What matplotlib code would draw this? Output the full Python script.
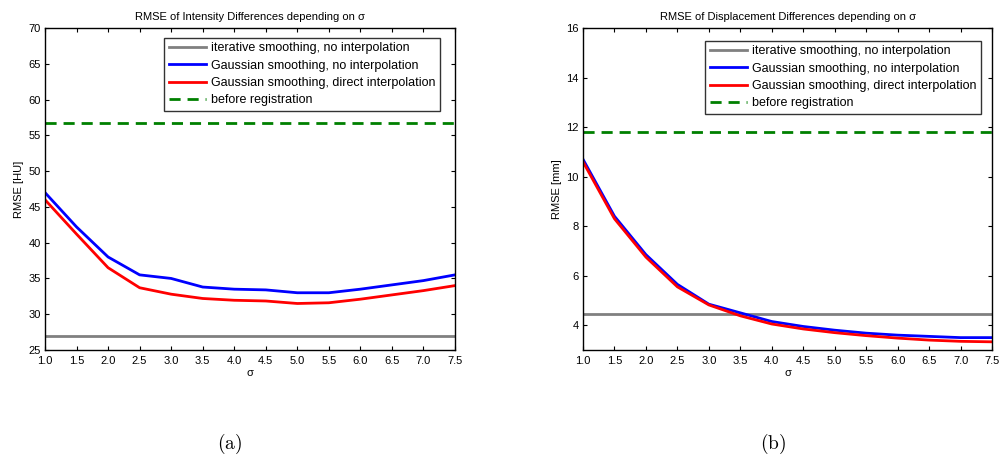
import numpy as np
import matplotlib.pyplot as plt

plt.rcParams['font.family'] = ['Liberation Sans', 'DejaVu Sans']
plt.rcParams['mathtext.fontset'] = 'cm'

# sigma values
sigma = [1.0, 1.5, 2.0, 2.5, 3.0, 3.5, 4.0, 4.5, 5.0, 5.5, 6.0, 6.5, 7.0, 7.5]

# (a) intensity differences [HU]
int_gauss_noint = [47.0, 42.2, 38.0, 35.5, 35.0, 33.8, 33.5, 33.4, 33.0, 33.0, 33.5, 34.1, 34.7, 35.5]
int_gauss_direct = [46.0, 41.2, 36.5, 33.7, 32.8, 32.2, 31.95, 31.85, 31.5, 31.6, 32.1, 32.7, 33.3, 34.0]
int_iterative = 26.9
int_before = 56.7

# (b) displacement differences [mm]
disp_gauss_noint = [10.7, 8.4, 6.85, 5.65, 4.85, 4.5, 4.15, 3.95, 3.8, 3.68, 3.6, 3.55, 3.5, 3.5]
disp_gauss_direct = [10.6, 8.3, 6.75, 5.55, 4.82, 4.38, 4.05, 3.85, 3.7, 3.58, 3.48, 3.4, 3.35, 3.33]
disp_iterative = 4.45
disp_before = 11.8

labels = ['iterative smoothing, no interpolation',
          'Gaussian smoothing, no interpolation',
          'Gaussian smoothing, direct interpolation',
          'before registration']

fig = plt.figure(figsize=(10.02, 4.68), dpi=100)
W, H = 1002, 468
ax1 = fig.add_axes([45 / W, 1 - 350 / H, 410 / W, 322 / H])
ax2 = fig.add_axes([583 / W, 1 - 350 / H, 409 / W, 322 / H])


def draw(ax, iterative, noint, direct, before, ylim, yticks, ylabel, title, legpos):
    ax.axhline(iterative, color='#808080', lw=2, label=labels[0])
    ax.plot(sigma, noint, color='#0000ff', lw=2, label=labels[1])
    ax.plot(sigma, direct, color='#ff0000', lw=2, label=labels[2])
    ax.axhline(before, color='#008000', lw=2, ls=(0, (4, 2.5)), label=labels[3])
    ax.set_xlim(1.0, 7.5)
    ax.set_ylim(*ylim)
    ax.set_xticks(sigma)
    ax.set_xticklabels([f'{s:.1f}' for s in sigma])
    ax.set_yticks(yticks)
    ax.tick_params(direction='in', top=True, right=True, labelsize=8, length=3)
    ax.tick_params(axis='x', pad=4)
    ax.tick_params(axis='y', pad=3)
    ax.set_xlabel('σ', fontsize=8, labelpad=2)
    ax.set_ylabel(ylabel, fontsize=8, labelpad=3)
    ax.set_title(title, fontsize=8, pad=6)
    leg = ax.legend(loc='upper right', bbox_to_anchor=legpos, fontsize=9, frameon=True,
                    fancybox=False, edgecolor='black', handlelength=3.0, handletextpad=0.4,
                    labelspacing=0.42, borderpad=0.35, borderaxespad=0.0)
    leg.get_frame().set_linewidth(1.0)
    for s in ax.spines.values():
        s.set_linewidth(1.0)


draw(ax1, int_iterative, int_gauss_noint, int_gauss_direct, int_before,
     (25, 70), range(25, 71, 5), 'RMSE [HU]',
     'RMSE of Intensity Differences depending on σ', (1 - 15 / 410, 1 - 10 / 322))
draw(ax2, disp_iterative, disp_gauss_noint, disp_gauss_direct, disp_before,
     (3, 16), range(4, 17, 2), 'RMSE [mm]',
     'RMSE of Displacement Differences depending on σ', (1 - 11 / 409, 1 - 13 / 322))

fig.text(230 / W, 1 - 444 / H, r'$\mathrm{(a)}$', ha='center', va='center', fontsize=14)
fig.text(773 / W, 1 - 444 / H, r'$\mathrm{(b)}$', ha='center', va='center', fontsize=14)

plt.savefig('out.png', dpi=100)
